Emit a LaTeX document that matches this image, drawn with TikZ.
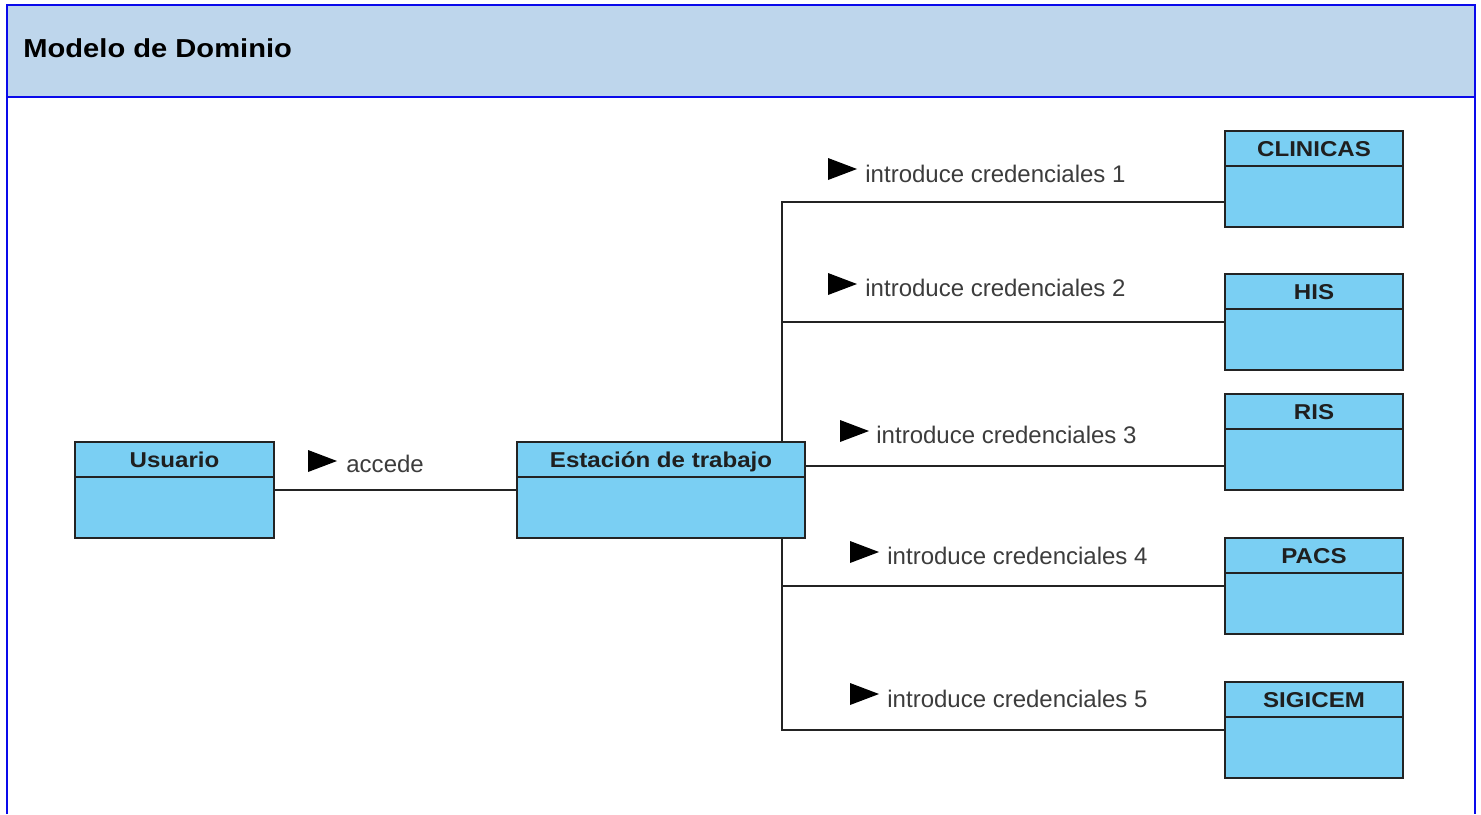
\documentclass[tikz,border=0pt]{standalone}
\usepackage{fontspec}
\setmainfont{Liberation Sans}
% slightly widened sans for the bold names
\newfontfamily\widesans[FakeStretch=1.12]{Liberation Sans}
\usetikzlibrary{calc}

\definecolor{framecol}{RGB}{10,10,235}
\definecolor{headfill}{RGB}{190,214,236}
\definecolor{boxfill}{RGB}{122,207,243}
\definecolor{boxline}{RGB}{35,35,35}
\definecolor{lbltext}{RGB}{60,60,60}

% UML class: name, left x, top y, width, title
\newcommand\umlclass[5]{%
  \node[classbox, minimum width=#4] (#1) at (#2,#3) {};
  \draw[divider] ([yshift=-18pt]#1.north west) -- ([yshift=-18pt]#1.north east);
  \node[classname] (#1-name) at ([yshift=-13pt]#1.north) {#5};}

% reading-direction marker of an association name (top-left corner given)
\newcommand\assocarrow[2]{\fill[black] (#1,#2) -- ++(29,11) -- ++(-29,11) -- cycle;}

\begin{document}
\begin{tikzpicture}[x=0.5pt,y=-0.5pt,
  frame/.style={draw=framecol, line width=1pt},
  classbox/.style={draw=boxline, fill=boxfill, line width=1pt, inner sep=0pt,
    minimum height=48pt, anchor=north west},
  divider/.style={draw=boxline, line width=1pt},
  classname/.style={anchor=base, inner sep=0pt,
    font=\widesans\bfseries\fontsize{10.75}{13}\selectfont, text=black!88},
  assoc/.style={draw=boxline, line width=0.9pt},
  assoclabel/.style={anchor=base west, inner sep=0pt,
    font=\fontsize{12}{14}\selectfont, text=lbltext}]

\useasboundingbox (0,0) rectangle (1481,814);

% diagram frame with its heading band
\fill[headfill] (7,5) rectangle (1475,97);
\draw[frame] (7,814) -- (7,5) -- (1475,5) -- (1475,814);
\draw[frame] (7,97) -- (1475,97);
\node[anchor=base west, inner sep=0pt,
  font=\widesans\bfseries\fontsize{13}{15}\selectfont] (heading) at (23,57) {Modelo de Dominio};

% classes
\umlclass{usuario}{74}{441}{99.5pt}{Usuario}
\umlclass{estacion}{516}{441}{144pt}{Estación de trabajo}
\umlclass{clinicas}{1224}{130}{89pt}{CLINICAS}
\umlclass{his}{1224}{273}{89pt}{HIS}
\umlclass{ris}{1224}{393}{89pt}{RIS}
\umlclass{pacs}{1224}{537}{89pt}{PACS}
\umlclass{sigicem}{1224}{681}{89pt}{SIGICEM}

% junction points of the shared trunk on the workstation box
\coordinate (trunktop) at (782,441);
\coordinate (trunkbot) at (782,537);

% associations
\draw[assoc] (usuario.east) -- (estacion.west);
\draw[assoc] ([yshift=-11.5pt]clinicas.west) -| (trunktop);
\draw[assoc] (his.west) -| (trunktop);
\draw[assoc] ([yshift=12pt]estacion.east) -- ([yshift=12pt]estacion.east -| ris.west);
\draw[assoc] (pacs.west) -| (trunkbot);
\draw[assoc] (sigicem.west) -| (trunkbot);

% association names
\assocarrow{308}{450}
\node[assoclabel] (lacc) at (346,472) {accede};
\assocarrow{828}{158}
\node[assoclabel] (l1) at (865,182) {introduce credenciales 1};
\assocarrow{828}{273}
\node[assoclabel] (l2) at (865,296) {introduce credenciales 2};
\assocarrow{840}{420}
\node[assoclabel] (l3) at (876,443) {introduce credenciales 3};
\assocarrow{850}{541}
\node[assoclabel] (l4) at (887,564) {introduce credenciales 4};
\assocarrow{850}{683}
\node[assoclabel] (l5) at (887,707) {introduce credenciales 5};

\end{tikzpicture}
\end{document}
